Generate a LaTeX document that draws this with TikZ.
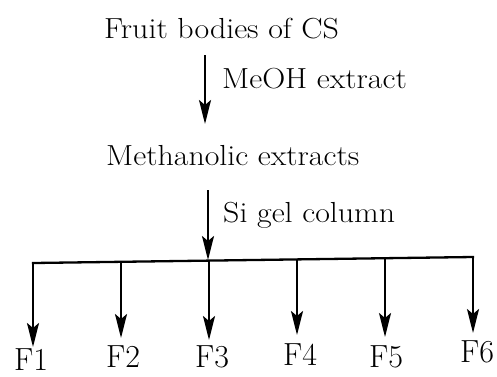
\documentclass[tikz,border=0pt]{standalone}
\usepackage{fontspec}
\usepackage{graphicx}
\usetikzlibrary{arrows.meta}
\begin{document}
\begin{tikzpicture}[x=1pt,y=-1pt,
  lbl/.style={anchor=base west,inner sep=0pt,font=\fontsize{29}{31}\selectfont},
  flbl/.style={anchor=base,inner sep=0pt,font=\fontsize{32}{34}\selectfont},
  arr/.style={line width=2.3pt,-{Stealth[length=24pt,width=12pt,inset=5pt]}},
  barline/.style={line width=2.3pt,line cap=rect}]
\useasboundingbox (0,0) rectangle (497,376);
\node[lbl] (top) at (104,38) {\scalebox{1.1}[1]{Fruit bodies of CS}};
\node[lbl] (meoh) at (222,88) {\scalebox{1.1}[1]{MeOH extract}};
\node[lbl] (meth) at (106,165) {\scalebox{1.1}[1]{Methanolic extracts}};
\node[lbl] (sigel) at (223,222) {\scalebox{1.1}[1]{Si gel column}};
\node[flbl] (f1) at (31,370) {F1};
\node[flbl] (f2) at (123,367) {F2};
\node[flbl] (f3) at (212,367) {F3};
\node[flbl] (f4) at (300,365) {F4};
\node[flbl] (f5) at (386,367) {F5};
\node[flbl] (f6) at (477,362) {F6};
\coordinate (a1s) at (205,55);
\coordinate (a1e) at (205,124);
\coordinate (a2s) at (208,190);
\coordinate (a2e) at (208,260);
\coordinate (b1) at (33,263);
\coordinate (b2) at (121,262);
\coordinate (b3) at (209,261);
\coordinate (b4) at (297,259);
\coordinate (b5) at (385,258);
\coordinate (b6) at (473,257);
\coordinate (t1) at (33,347);
\coordinate (t2) at (121,338);
\coordinate (t3) at (209,340);
\coordinate (t4) at (297,335);
\coordinate (t5) at (385,337);
\coordinate (t6) at (473,333);
\draw[arr] (a1s) -- (a1e);
\draw[arr] (a2s) -- (a2e);
\draw[barline] (b1) -- (b6);
\foreach \i in {1,...,6} \draw[arr] (b\i) -- (t\i);
\end{tikzpicture}
\end{document}
